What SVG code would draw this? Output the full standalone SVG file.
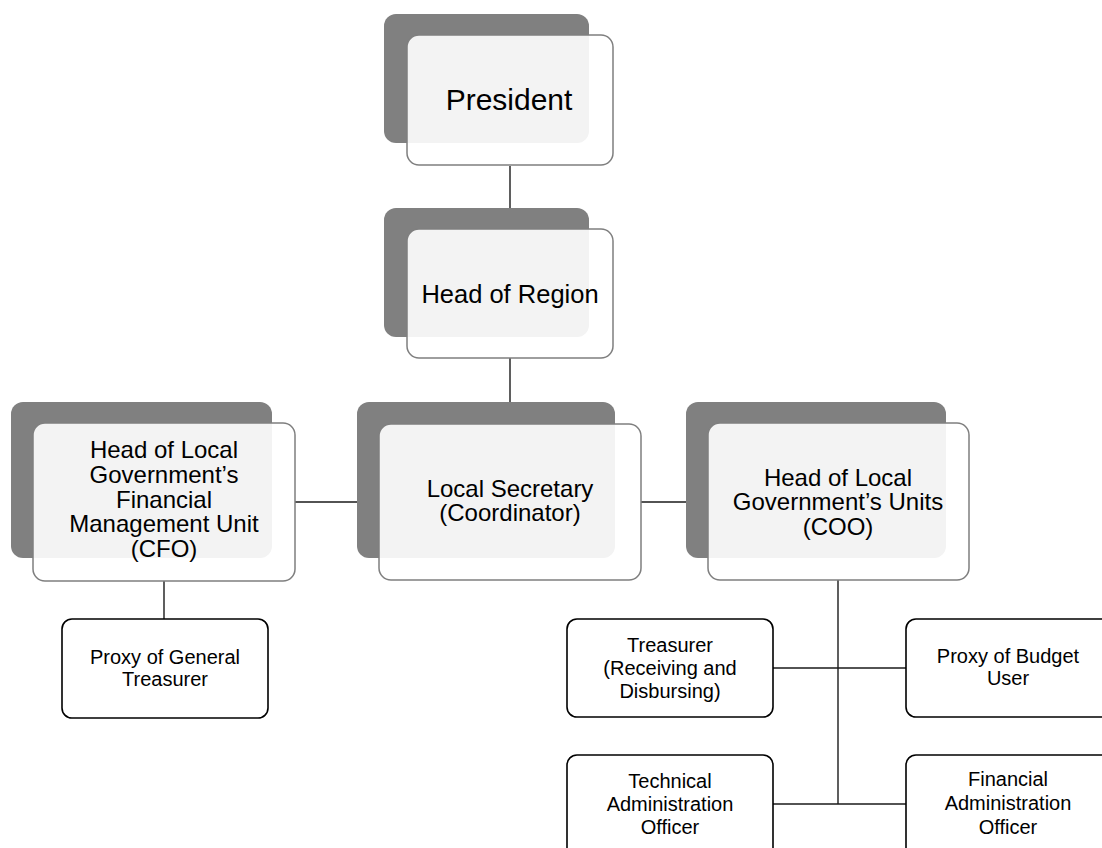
<svg xmlns="http://www.w3.org/2000/svg" width="1102" height="848" viewBox="0 0 1102 848">
  <style>
    .back { fill: #808080; }
    .front { fill: #ffffff; fill-opacity: 0.9; stroke: #7f7f7f; stroke-width: 1.5; }
    .box { fill: #ffffff; stroke: #000000; stroke-width: 1.6; }
    .conn { stroke: #1a1a1a; stroke-width: 1.4; fill: none; }
    text { font-family: "Liberation Sans", Arial, sans-serif; fill: #000000; text-anchor: middle; }
    .big { font-size: 30px; }
    .region { font-size: 25.5px; }
    .mid { font-size: 24px; }
    .small { font-size: 20px; }
  </style>
  <rect width="1102" height="848" fill="#ffffff"/>

  <!-- connectors -->
  <g id="connectors">
    <line class="conn" x1="510" y1="166" x2="510" y2="229"/>
    <line class="conn" x1="510" y1="358" x2="510" y2="424"/>
    <line class="conn" x1="295" y1="502" x2="379" y2="502"/>
    <line class="conn" x1="641" y1="502" x2="708" y2="502"/>
    <line class="conn" x1="164" y1="581" x2="164" y2="619"/>
    <line class="conn" x1="838" y1="580" x2="838" y2="804"/>
    <line class="conn" x1="773" y1="668" x2="906" y2="668"/>
    <line class="conn" x1="773" y1="804" x2="906" y2="804"/>
  </g>

  <!-- upper tier: two-layer cards -->
  <g id="president">
    <rect class="back" x="384" y="14" width="205" height="129" rx="12"/>
    <rect class="front" x="407" y="35" width="206" height="130" rx="12"/>
    <text class="big" x="509" y="110">President</text>
  </g>

  <g id="head-of-region">
    <rect class="back" x="384" y="208" width="205" height="129" rx="12"/>
    <rect class="front" x="407" y="229" width="206" height="129" rx="12"/>
    <text class="region" x="510" y="303">Head of Region</text>
  </g>

  <g id="cfo">
    <rect class="back" x="11" y="402" width="261" height="156" rx="12"/>
    <rect class="front" x="33" y="423" width="262" height="158" rx="12"/>
    <text class="mid" x="164" y="458">Head of Local</text>
    <text class="mid" x="164" y="483">Government’s</text>
    <text class="mid" x="164" y="508">Financial</text>
    <text class="mid" x="164" y="532">Management Unit</text>
    <text class="mid" x="164" y="557">(CFO)</text>
  </g>

  <g id="local-secretary">
    <rect class="back" x="357" y="402" width="258" height="156" rx="12"/>
    <rect class="front" x="379" y="424" width="262" height="156" rx="12"/>
    <text class="mid" x="510" y="497">Local Secretary</text>
    <text class="mid" x="510" y="521">(Coordinator)</text>
  </g>

  <g id="coo">
    <rect class="back" x="686" y="402" width="260" height="156" rx="12"/>
    <rect class="front" x="708" y="423" width="261" height="157" rx="12"/>
    <text class="mid" x="838" y="486">Head of Local</text>
    <text class="mid" x="838" y="510">Government’s Units</text>
    <text class="mid" x="838" y="535">(COO)</text>
  </g>

  <!-- lower tier: plain boxes -->
  <g id="proxy-general-treasurer">
    <rect class="box" x="62" y="619" width="206" height="99" rx="10"/>
    <text class="small" x="165" y="664">Proxy of General</text>
    <text class="small" x="165" y="686">Treasurer</text>
  </g>

  <g id="treasurer">
    <rect class="box" x="567" y="619" width="206" height="98" rx="10"/>
    <text class="small" x="670" y="652">Treasurer</text>
    <text class="small" x="670" y="675">(Receiving and</text>
    <text class="small" x="670" y="698">Disbursing)</text>
  </g>

  <g id="proxy-budget-user">
    <rect class="box" x="906" y="619" width="206" height="98" rx="10"/>
    <text class="small" x="1008" y="663">Proxy of Budget</text>
    <text class="small" x="1008" y="685">User</text>
  </g>

  <g id="technical-admin-officer">
    <rect class="box" x="567" y="755" width="206" height="110" rx="10"/>
    <text class="small" x="670" y="788">Technical</text>
    <text class="small" x="670" y="811">Administration</text>
    <text class="small" x="670" y="834">Officer</text>
  </g>

  <g id="financial-admin-officer">
    <rect class="box" x="906" y="755" width="206" height="110" rx="10"/>
    <text class="small" x="1008" y="786">Financial</text>
    <text class="small" x="1008" y="810">Administration</text>
    <text class="small" x="1008" y="834">Officer</text>
  </g>
</svg>
